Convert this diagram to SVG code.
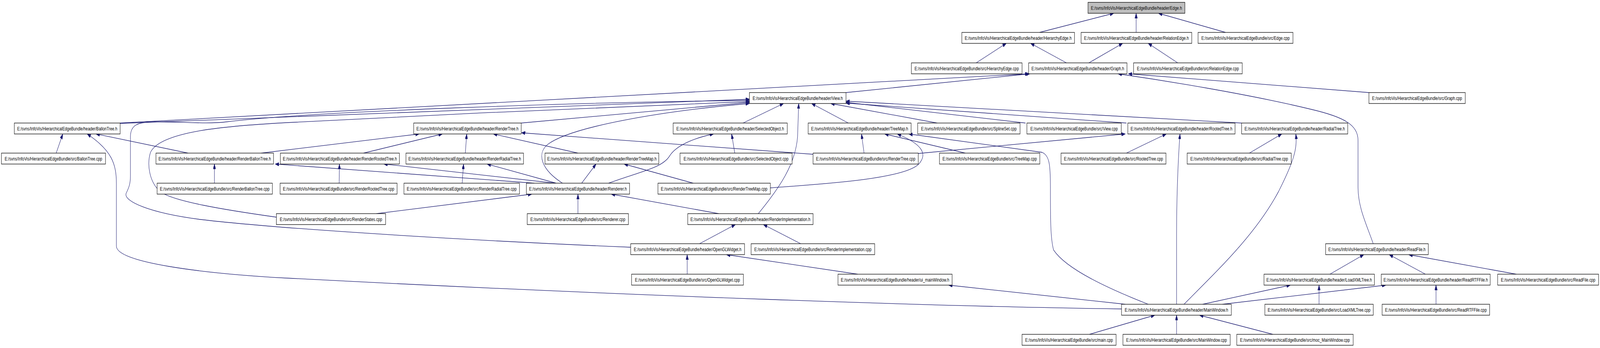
<svg xmlns="http://www.w3.org/2000/svg" width="5581" height="891" viewBox="0 0 5581 891" preserveAspectRatio="none" style="width:100vw;height:100vh;display:block">
<style>
.node rect{fill:#ffffff;stroke:#000000;stroke-width:1.3}
.node.root rect{fill:#bfbfbf}
.node text{font-family:"Liberation Sans",Arial,Helvetica,sans-serif;font-size:13px;text-anchor:middle;fill:#000000}
.edges path{fill:none;stroke:#191970;stroke-width:1.3;marker-end:url(#arr)}
</style>
<defs>
<marker id="arr" markerUnits="userSpaceOnUse" markerWidth="13" markerHeight="9" refX="13" refY="4.5" orient="auto"><path d="M0,0 L13,4.5 L0,9 z" fill="#191970" stroke="#191970" stroke-width="1"/></marker>
</defs>
<rect x="0" y="0" width="5581" height="891" fill="#ffffff"/>
<g id="edges" class="edges">
<path d="M3626,83 L3885,34"/>
<path d="M3963,83 L3963,34"/>
<path d="M4275,83 L4041,34"/>
<path d="M3405,161 L3510,111"/>
<path d="M3720,161 L3595,111"/>
<path d="M3798,161 L3916,111"/>
<path d="M4108,161 L4005,111"/>
<path d="M2951,237 L3592,189"/>
<path d="M419,315 L3588,189"/>
<path d="M4775,237 L3936,189"/>
<path d="M4790,624 C4765,572 4737,530 4737,480 L4737,360 C4737,320 4690,300 4574,280 C4350,240 4050,205 3900,189"/>
<path d="M196,392 L219,343"/>
<path d="M656,392 L335,343"/>
<path d="M3912,791 C3300,785 2200,758 1000,712 C700,700 406,672 406,630 L406,470 C406,420 390,385 304,343"/>
<path d="M748,469 L748,420"/>
<path d="M911,392 L1462,343"/>
<path d="M1268,392 L1543,343"/>
<path d="M1183,469 L1184,420"/>
<path d="M1864,469 L960,420"/>
<path d="M1936,469 L1339,420"/>
<path d="M1623,392 L1628,343"/>
<path d="M2016,392 L1721,343"/>
<path d="M2836,395 L1819,340"/>
<path d="M1818,315 L2614,262"/>
<path d="M1612,469 L1617,420"/>
<path d="M1940,469 L1699,420"/>
<path d="M2029,469 L2079,420"/>
<path d="M2418,469 L2177,420"/>
<path d="M2123,469 C2230,440 2310,430 2335,400 C2360,370 2430,352 2489,343"/>
<path d="M1962,469 C1890,435 1870,395 1910,370 C1990,325 2300,285 2614,265"/>
<path d="M2016,547 L2016,497"/>
<path d="M2507,547 L2132,497"/>
<path d="M1313,547 L1855,497"/>
<path d="M964,556 C780,537 600,515 558,490 C520,465 512,420 525,390 C560,335 800,322 1000,314 C1500,295 2200,270 2614,260"/>
<path d="M2200,633 C1700,618 1000,588 700,562 C520,545 430,515 440,495 C450,480 455,470 455,450 L455,350 C455,320 480,312 540,312 C640,312 720,318 790,312 C1100,285 2000,262 2614,257"/>
<path d="M419,316 L2614,254"/>
<path d="M2563,392 L2552,343"/>
<path d="M2592,315 L2733,265"/>
<path d="M2645,547 C2720,480 2775,420 2782,350 L2786,265"/>
<path d="M2959,315 L2831,265"/>
<path d="M3269,315 L2898,265"/>
<path d="M3577,315 L2951,262"/>
<path d="M3929,315 L2951,264"/>
<path d="M4331,315 L2951,259"/>
<path d="M3014,392 L3005,343"/>
<path d="M3367,392 L3086,343"/>
<path d="M2687,481 C2850,472 3150,460 3205,420 C3235,395 3220,370 3130,343"/>
<path d="M4005,779 C3870,740 3720,690 3675,640 C3664,610 3664,560 3664,480 C3664,420 3660,398 3635,390 L3170,343"/>
<path d="M3203,393 L3925,343"/>
<path d="M3929,392 L4068,343"/>
<path d="M4104,779 L4104,600 C4104,500 4110,400 4116,343"/>
<path d="M4358,392 L4471,343"/>
<path d="M4130,779 C4250,690 4380,600 4460,490 C4515,410 4525,380 4520,343"/>
<path d="M2440,624 L2565,575"/>
<path d="M2793,624 L2663,575"/>
<path d="M2397,702 L2397,652"/>
<path d="M2992,702 L2534,652"/>
<path d="M3925,779 L3309,730"/>
<path d="M3800,856 L4028,807"/>
<path d="M4104,856 L4104,807"/>
<path d="M4440,856 L4184,807"/>
<path d="M4195,779 L4501,730"/>
<path d="M4264,779 L4834,730"/>
<path d="M4639,702 L4757,652"/>
<path d="M4972,702 L4846,652"/>
<path d="M5289,702 L4914,652"/>
<path d="M4601,779 L4601,730"/>
<path d="M5009,779 L5009,730"/>
</g>
<g id="n_edge_h" class="node root"><rect x="3795" y="6" width="338" height="28"/><text x="3964" y="25">E:/svns/InfoVis/HierarchicalEdgeBundle/header/Edge.h</text></g>
<g id="n_hierarchyedge_h" class="node"><rect x="3355" y="83" width="393" height="28"/><text x="3551.5" y="102">E:/svns/InfoVis/HierarchicalEdgeBundle/header/HierarchyEdge.h</text></g>
<g id="n_relationedge_h" class="node"><rect x="3771" y="83" width="386" height="28"/><text x="3964" y="102">E:/svns/InfoVis/HierarchicalEdgeBundle/header/RelationEdge.h</text></g>
<g id="n_edge_cpp" class="node"><rect x="4179" y="83" width="331" height="28"/><text x="4344.5" y="102">E:/svns/InfoVis/HierarchicalEdgeBundle/src/Edge.cpp</text></g>
<g id="n_hierarchyedge_cpp" class="node"><rect x="3179" y="161" width="386" height="28"/><text x="3372" y="180">E:/svns/InfoVis/HierarchicalEdgeBundle/src/HierarchyEdge.cpp</text></g>
<g id="n_graph_h" class="node"><rect x="3588" y="161" width="343" height="28"/><text x="3759.5" y="180">E:/svns/InfoVis/HierarchicalEdgeBundle/header/Graph.h</text></g>
<g id="n_relationedge_cpp" class="node"><rect x="3954" y="161" width="379" height="28"/><text x="4143.5" y="180">E:/svns/InfoVis/HierarchicalEdgeBundle/src/RelationEdge.cpp</text></g>
<g id="n_view_h" class="node"><rect x="2614" y="237" width="337" height="28"/><text x="2782.5" y="256">E:/svns/InfoVis/HierarchicalEdgeBundle/header/View.h</text></g>
<g id="n_graph_cpp" class="node"><rect x="4775" y="237" width="336" height="28"/><text x="4943" y="256">E:/svns/InfoVis/HierarchicalEdgeBundle/src/Graph.cpp</text></g>
<g id="n_ballontree_h" class="node"><rect x="50" y="315" width="369" height="28"/><text x="234.5" y="334">E:/svns/InfoVis/HierarchicalEdgeBundle/header/BallonTree.h</text></g>
<g id="n_rendertree_h" class="node"><rect x="1443" y="315" width="375" height="28"/><text x="1630.5" y="334">E:/svns/InfoVis/HierarchicalEdgeBundle/header/RenderTree.h</text></g>
<g id="n_selectedobject_h" class="node"><rect x="2348" y="315" width="398" height="28"/><text x="2547" y="334">E:/svns/InfoVis/HierarchicalEdgeBundle/header/SelectedObject.h</text></g>
<g id="n_treemap_h" class="node"><rect x="2819" y="315" width="359" height="28"/><text x="2998.5" y="334">E:/svns/InfoVis/HierarchicalEdgeBundle/header/TreeMap.h</text></g>
<g id="n_splineset_cpp" class="node"><rect x="3201" y="315" width="357" height="28"/><text x="3379.5" y="334">E:/svns/InfoVis/HierarchicalEdgeBundle/src/SplineSet.cpp</text></g>
<g id="n_view_cpp" class="node"><rect x="3582" y="315" width="329" height="28"/><text x="3746.5" y="334">E:/svns/InfoVis/HierarchicalEdgeBundle/src/View.cpp</text></g>
<g id="n_rootedtree_h" class="node"><rect x="3934" y="315" width="374" height="28"/><text x="4121" y="334">E:/svns/InfoVis/HierarchicalEdgeBundle/header/RootedTree.h</text></g>
<g id="n_radialtree_h" class="node"><rect x="4331" y="315" width="370" height="28"/><text x="4516" y="334">E:/svns/InfoVis/HierarchicalEdgeBundle/header/RadialTree.h</text></g>
<g id="n_ballontree_cpp" class="node"><rect x="5" y="392" width="363" height="28"/><text x="186.5" y="411">E:/svns/InfoVis/HierarchicalEdgeBundle/src/BallonTree.cpp</text></g>
<g id="n_renderballontree_h" class="node"><rect x="544" y="392" width="410" height="28"/><text x="749" y="411">E:/svns/InfoVis/HierarchicalEdgeBundle/header/RenderBallonTree.h</text></g>
<g id="n_renderrootedtree_h" class="node"><rect x="978" y="392" width="415" height="28"/><text x="1185.5" y="411">E:/svns/InfoVis/HierarchicalEdgeBundle/header/RenderRootedTree.h</text></g>
<g id="n_renderradialtree_h" class="node"><rect x="1416" y="392" width="410" height="28"/><text x="1621" y="411">E:/svns/InfoVis/HierarchicalEdgeBundle/header/RenderRadialTree.h</text></g>
<g id="n_rendertreemap_h" class="node"><rect x="1901" y="392" width="397" height="28"/><text x="2099.5" y="411">E:/svns/InfoVis/HierarchicalEdgeBundle/header/RenderTreeMap.h</text></g>
<g id="n_selectedobject_cpp" class="node"><rect x="2372" y="392" width="391" height="28"/><text x="2567.5" y="411">E:/svns/InfoVis/HierarchicalEdgeBundle/src/SelectedObject.cpp</text></g>
<g id="n_rendertree_cpp" class="node"><rect x="2836" y="392" width="367" height="28"/><text x="3019.5" y="411">E:/svns/InfoVis/HierarchicalEdgeBundle/src/RenderTree.cpp</text></g>
<g id="n_treemap_cpp" class="node"><rect x="3277" y="392" width="350" height="28"/><text x="3452" y="411">E:/svns/InfoVis/HierarchicalEdgeBundle/src/TreeMap.cpp</text></g>
<g id="n_rootedtree_cpp" class="node"><rect x="3701" y="392" width="366" height="28"/><text x="3884" y="411">E:/svns/InfoVis/HierarchicalEdgeBundle/src/RootedTree.cpp</text></g>
<g id="n_radialtree_cpp" class="node"><rect x="4141" y="392" width="363" height="28"/><text x="4322.5" y="411">E:/svns/InfoVis/HierarchicalEdgeBundle/src/RadialTree.cpp</text></g>
<g id="n_renderballontree_cpp" class="node"><rect x="548" y="469" width="402" height="28"/><text x="749" y="488">E:/svns/InfoVis/HierarchicalEdgeBundle/src/RenderBallonTree.cpp</text></g>
<g id="n_renderrootedtree_cpp" class="node"><rect x="977" y="469" width="408" height="28"/><text x="1181" y="488">E:/svns/InfoVis/HierarchicalEdgeBundle/src/RenderRootedTree.cpp</text></g>
<g id="n_renderradialtree_cpp" class="node"><rect x="1409" y="469" width="403" height="28"/><text x="1610.5" y="488">E:/svns/InfoVis/HierarchicalEdgeBundle/src/RenderRadialTree.cpp</text></g>
<g id="n_renderer_h" class="node"><rect x="1836" y="469" width="360" height="28"/><text x="2016" y="488">E:/svns/InfoVis/HierarchicalEdgeBundle/header/Renderer.h</text></g>
<g id="n_rendertreemap_cpp" class="node"><rect x="2295" y="469" width="392" height="28"/><text x="2491" y="488">E:/svns/InfoVis/HierarchicalEdgeBundle/src/RenderTreeMap.cpp</text></g>
<g id="n_renderstates_cpp" class="node"><rect x="964" y="547" width="381" height="28"/><text x="1154.5" y="566">E:/svns/InfoVis/HierarchicalEdgeBundle/src/RenderStates.cpp</text></g>
<g id="n_renderer_cpp" class="node"><rect x="1839" y="547" width="353" height="28"/><text x="2015.5" y="566">E:/svns/InfoVis/HierarchicalEdgeBundle/src/Renderer.cpp</text></g>
<g id="n_renderimplementation_h" class="node"><rect x="2399" y="547" width="437" height="28"/><text x="2617.5" y="566">E:/svns/InfoVis/HierarchicalEdgeBundle/header/RenderImplementation.h</text></g>
<g id="n_openglwidget_h" class="node"><rect x="2200" y="624" width="397" height="28"/><text x="2398.5" y="643">E:/svns/InfoVis/HierarchicalEdgeBundle/header/OpenGLWidget.h</text></g>
<g id="n_renderimplementation_cpp" class="node"><rect x="2620" y="624" width="431" height="28"/><text x="2835.5" y="643">E:/svns/InfoVis/HierarchicalEdgeBundle/src/RenderImplementation.cpp</text></g>
<g id="n_readfile_h" class="node"><rect x="4624" y="624" width="358" height="28"/><text x="4803" y="643">E:/svns/InfoVis/HierarchicalEdgeBundle/header/ReadFile.h</text></g>
<g id="n_openglwidget_cpp" class="node"><rect x="2203" y="702" width="390" height="28"/><text x="2398" y="721">E:/svns/InfoVis/HierarchicalEdgeBundle/src/OpenGLWidget.cpp</text></g>
<g id="n_ui_mainwindow_h" class="node"><rect x="2923" y="702" width="398" height="28"/><text x="3122" y="721">E:/svns/InfoVis/HierarchicalEdgeBundle/header/ui_mainWindow.h</text></g>
<g id="n_loadxmltree_h" class="node"><rect x="4409" y="702" width="385" height="28"/><text x="4601.5" y="721">E:/svns/InfoVis/HierarchicalEdgeBundle/header/LoadXMLTree.h</text></g>
<g id="n_readrtffile_h" class="node"><rect x="4818" y="702" width="380" height="28"/><text x="5008" y="721">E:/svns/InfoVis/HierarchicalEdgeBundle/header/ReadRTFFile.h</text></g>
<g id="n_readfile_cpp" class="node"><rect x="5224" y="702" width="352" height="28"/><text x="5400" y="721">E:/svns/InfoVis/HierarchicalEdgeBundle/src/ReadFile.cpp</text></g>
<g id="n_mainwindow_h" class="node"><rect x="3912" y="779" width="383" height="28"/><text x="4103.5" y="798">E:/svns/InfoVis/HierarchicalEdgeBundle/header/MainWindow.h</text></g>
<g id="n_loadxmltree_cpp" class="node"><rect x="4412" y="779" width="378" height="28"/><text x="4601" y="798">E:/svns/InfoVis/HierarchicalEdgeBundle/src/LoadXMLTree.cpp</text></g>
<g id="n_readrtffile_cpp" class="node"><rect x="4821" y="779" width="375" height="28"/><text x="5008.5" y="798">E:/svns/InfoVis/HierarchicalEdgeBundle/src/ReadRTFFile.cpp</text></g>
<g id="n_main_cpp" class="node"><rect x="3565" y="856" width="328" height="28"/><text x="3729" y="875">E:/svns/InfoVis/HierarchicalEdgeBundle/src/main.cpp</text></g>
<g id="n_mainwindow_cpp" class="node"><rect x="3917" y="856" width="374" height="28"/><text x="4104" y="875">E:/svns/InfoVis/HierarchicalEdgeBundle/src/MainWindow.cpp</text></g>
<g id="n_moc_mainwindow_cpp" class="node"><rect x="4314" y="856" width="406" height="28"/><text x="4517" y="875">E:/svns/InfoVis/HierarchicalEdgeBundle/src/moc_MainWindow.cpp</text></g>
</svg>
